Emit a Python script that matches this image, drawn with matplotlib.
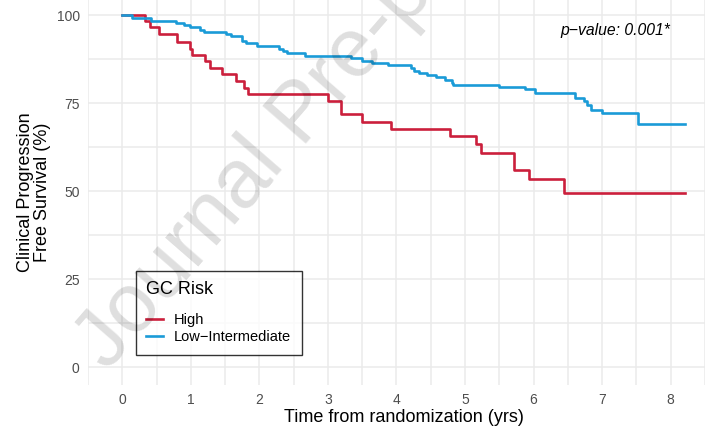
import matplotlib
matplotlib.use("Agg")
import matplotlib.pyplot as plt

plt.rcParams['font.family'] = ['Liberation Sans', 'DejaVu Sans']

# Kaplan-Meier style step curves
high_t = [0, 0.33, 0.41, 0.53, 0.80, 0.99, 1.02, 1.20, 1.28, 1.45, 1.66, 1.78, 1.84,
          3.00, 3.19, 3.50, 3.92, 4.78, 5.16, 5.23, 5.71, 5.94, 6.45, 8.21]
high_s = [100, 98.4, 96.7, 94.6, 92.4, 90.5, 88.6, 86.9, 85.1, 83.2, 81.25, 79.4, 77.5,
          75.7, 71.8, 69.7, 67.8, 65.7, 63.4, 61.0, 56.0, 53.6, 49.5, 49.5]

low_t = [0, 0.14, 0.42, 0.78, 0.90, 0.99, 1.14, 1.19, 1.52, 1.59, 1.75, 1.81, 1.97,
         2.28, 2.35, 2.40, 2.66, 3.33, 3.50, 3.64, 3.88, 4.21, 4.26, 4.33, 4.45, 4.57,
         4.71, 4.81, 4.83, 5.50, 5.88, 6.02, 6.61, 6.73, 6.78, 6.84, 7.00, 7.52, 8.21]
low_s = [100, 99.3, 98.4, 97.8, 97.2, 96.5, 95.9, 95.3, 94.6, 94.0, 92.7, 92.1, 91.2,
         90.5, 89.9, 89.3, 88.5, 87.7, 87.0, 86.5, 85.8, 84.9, 84.2, 83.6, 83.0, 82.3,
         81.7, 80.8, 80.1, 79.5, 78.9, 78.0, 76.6, 75.7, 74.4, 73.2, 72.1, 69.2, 69.2]

group_labels = ["High", "Low\u2212Intermediate"]
group_colors = ["#CB1F3C", "#1A9BD7"]
x_ticks = [0, 1, 2, 3, 4, 5, 6, 7, 8]
y_ticks = [0, 25, 50, 75, 100]

fig = plt.figure(figsize=(7.05, 4.33), dpi=100)
ax = fig.add_axes([0.1248, 0.1109, 0.8752, 0.8891])

ax.step(high_t, high_s, where='post', color=group_colors[0], lw=1.9, label=group_labels[0], zorder=3)
ax.step(low_t, low_s, where='post', color=group_colors[1], lw=1.9, label=group_labels[1], zorder=3)

ax.set_xlim(-0.41, 8.4)
ax.set_ylim(-5, 104.3)
ax.set_xticks(x_ticks)
ax.set_yticks(y_ticks)
ax.set_xticks([i + 0.5 for i in range(-1, 9)], minor=True)
ax.set_yticks([12.5, 37.5, 62.5, 87.5], minor=True)
ax.grid(True, which='both', color='#EBEBEB', lw=1.1, zorder=0)
ax.set_axisbelow(True)
for s in ax.spines.values():
    s.set_visible(False)
ax.tick_params(which='both', length=0, labelsize=10, labelcolor='#4D4D4D', pad=6)

# panel is cut on the right in the original, label centred on the full panel
ax.set_xlabel("Time from randomization (yrs)", fontsize=13)
ax.xaxis.set_label_coords(0.512, -0.062)
ax.set_ylabel("Clinical Progression\nFree Survival (%)", fontsize=13, labelpad=4, linespacing=1.0)

ax.text(8.0, 95.6, "p\u2212value: 0.001*", style='italic', fontsize=11.3,
        ha='right', va='center')

leg = ax.legend(title="GC Risk", loc='lower left', bbox_to_anchor=(0.0778, 0.0779),
                borderaxespad=0, frameon=True, fancybox=False, fontsize=10.5,
                title_fontsize=13, handlelength=1.15, handletextpad=0.75,
                borderpad=0.72, labelspacing=0.25, alignment='left')
leg.get_frame().set_edgecolor('black')
leg.get_frame().set_linewidth(1.0)
leg._legend_box.sep = 10.5  # gap between title and entries

# watermark
fig.text(0.152, 0.141, "Journal Pre-proof", fontsize=60, color='black', alpha=0.13,
         rotation=49, rotation_mode='anchor', ha='left', va='baseline', zorder=10)

fig.savefig("out.png", dpi=100)
